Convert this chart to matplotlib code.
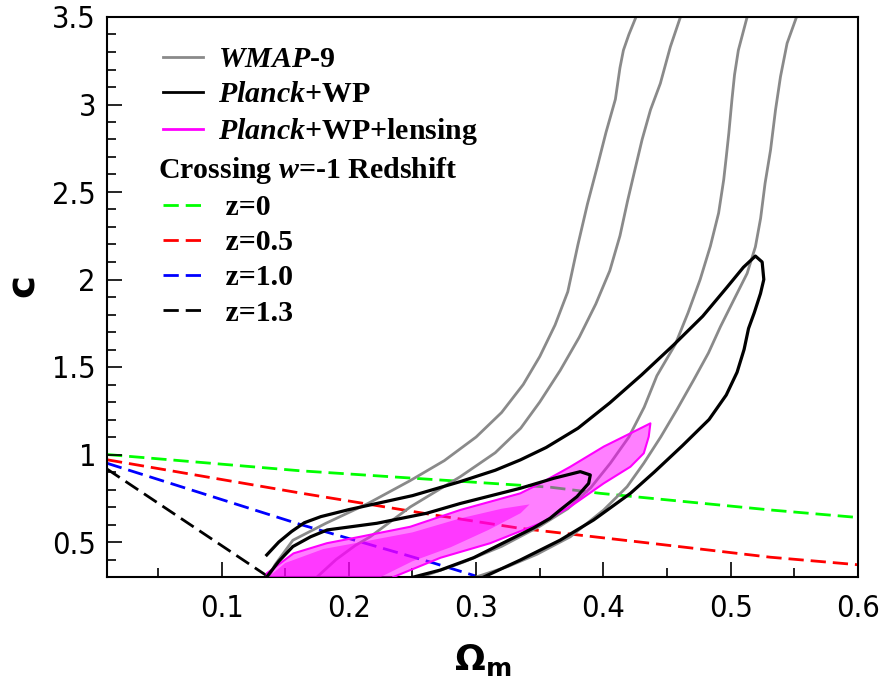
import matplotlib
matplotlib.use('Agg')
import matplotlib.pyplot as plt
from matplotlib.lines import Line2D
from matplotlib.ticker import MultipleLocator

plt.rcParams['mathtext.fontset'] = 'custom'
plt.rcParams['mathtext.rm'] = 'Liberation Serif:bold'
plt.rcParams['mathtext.it'] = 'Liberation Serif:italic:bold'
plt.rcParams['mathtext.bf'] = 'DejaVu Sans:bold'

# crossing w=-1 redshift lines (Omega_m, c)
z0_x = [0.01, 0.1617, 0.3583, 0.3976, 0.5312, 0.6]
z0_c = [1.0, 0.907, 0.813, 0.778, 0.683, 0.64]
z05_x = [0.01, 0.1617, 0.2665, 0.3347, 0.4369, 0.5312, 0.6]
z05_c = [0.97, 0.78, 0.655, 0.578, 0.493, 0.413, 0.37]
z10_x = [0.01, 0.162, 0.2665, 0.30]
z10_c = [0.95, 0.60, 0.38, 0.305]
z13_x = [0.01, 0.137]
z13_c = [0.917, 0.30]

# WMAP-9 contours (open branches)
wmap_out_left_x = [0.137, 0.142, 0.156, 0.182, 0.215, 0.248, 0.275, 0.30, 0.32, 0.337, 0.35,
                   0.362, 0.372, 0.38, 0.3874, 0.395, 0.402, 0.4094, 0.413, 0.4157, 0.42, 0.4256]
wmap_out_left_c = [0.30, 0.37, 0.51, 0.607, 0.72, 0.85, 0.965, 1.10, 1.24, 1.40, 1.56,
                   1.74, 1.93, 2.20, 2.43, 2.64, 2.84, 3.03, 3.21, 3.31, 3.40, 3.5]
wmap_in_left_x = [0.175, 0.19, 0.205, 0.2168, 0.2482, 0.2875, 0.315, 0.335, 0.35, 0.366, 0.381,
                  0.394, 0.405, 0.413, 0.419, 0.4245, 0.4304, 0.437, 0.4447, 0.4526, 0.4605]
wmap_in_left_c = [0.30, 0.40, 0.48, 0.53, 0.70, 0.873, 1.01, 1.15, 1.30, 1.48, 1.67,
                  1.86, 2.05, 2.25, 2.45, 2.62, 2.80, 2.97, 3.12, 3.33, 3.5]
wmap_in_right_x = [0.257, 0.29, 0.32, 0.35, 0.372, 0.39, 0.4054, 0.42, 0.432, 0.442, 0.4565,
                   0.4665, 0.476, 0.484, 0.4905, 0.4945, 0.4965, 0.4985, 0.501, 0.503, 0.506, 0.5129]
wmap_in_right_c = [0.30, 0.385, 0.475, 0.59, 0.69, 0.81, 0.95, 1.10, 1.27, 1.45, 1.63,
                   1.81, 2.0, 2.19, 2.38, 2.57, 2.70, 2.835, 3.03, 3.17, 3.31, 3.5]
wmap_out_right_x = [0.30, 0.325, 0.3478, 0.374, 0.4002, 0.4186, 0.4317, 0.445, 0.458, 0.4709, 0.4825,
                    0.4919, 0.5024, 0.5129, 0.5194, 0.5235, 0.527, 0.5313, 0.5352, 0.5391, 0.5443, 0.5517]
wmap_out_right_c = [0.30, 0.36, 0.43, 0.53, 0.683, 0.816, 0.95, 1.10, 1.26, 1.426, 1.58,
                    1.73, 1.883, 2.035, 2.187, 2.35, 2.55, 2.74, 2.969, 3.159, 3.35, 3.5]

# Planck+WP contours
planck_out_x = [0.1355, 0.145, 0.155, 0.165, 0.178, 0.20, 0.225, 0.25, 0.2875, 0.315, 0.3347,
                0.355, 0.38, 0.405, 0.43, 0.455, 0.478, 0.497, 0.51, 0.5194, 0.5247, 0.526,
                0.5234, 0.5185, 0.514, 0.5105, 0.505, 0.4965, 0.483, 0.462, 0.44, 0.4212,
                0.3923, 0.3661, 0.3347, 0.306]
planck_out_c = [0.426, 0.50, 0.56, 0.61, 0.645, 0.685, 0.725, 0.765, 0.845, 0.91, 0.969,
                1.04, 1.15, 1.295, 1.455, 1.625, 1.79, 1.955, 2.07, 2.134, 2.10, 2.0,
                1.92, 1.81, 1.72, 1.6, 1.47, 1.34, 1.20, 1.05, 0.90, 0.778,
                0.626, 0.511, 0.397, 0.30]
planck_in_x = [0.1355, 0.145, 0.156, 0.17, 0.183, 0.222, 0.261, 0.2875, 0.3347, 0.361, 0.3818,
               0.3897, 0.3884, 0.3792, 0.366, 0.358, 0.345, 0.32, 0.298, 0.272, 0.251]
planck_in_c = [0.30, 0.39, 0.474, 0.53, 0.569, 0.607, 0.664, 0.72, 0.807, 0.864, 0.902,
               0.883, 0.835, 0.759, 0.683, 0.635, 0.58, 0.49, 0.41, 0.34, 0.30]

# Planck+WP+lensing contours
lens_out_x = [0.1355, 0.1355, 0.1565, 0.1827, 0.2089, 0.2482, 0.2875, 0.3347, 0.3504, 0.374,
              0.4002, 0.4212, 0.4369, 0.4356, 0.4317, 0.4212, 0.4002, 0.374, 0.3504, 0.311,
              0.272, 0.235]
lens_out_c = [0.30, 0.321, 0.435, 0.493, 0.53, 0.587, 0.683, 0.778, 0.835, 0.93,
              1.045, 1.121, 1.178, 1.102, 1.007, 0.93, 0.835, 0.702, 0.607, 0.493,
              0.41, 0.30]
lens_in_x = [0.137, 0.15, 0.18, 0.21, 0.25, 0.2875, 0.32, 0.342, 0.335, 0.31, 0.28, 0.25, 0.225]
lens_in_c = [0.30, 0.38, 0.46, 0.50, 0.555, 0.635, 0.69, 0.715, 0.665, 0.57, 0.47, 0.39, 0.30]

fig = plt.figure(figsize=(8.81, 6.77), dpi=100)
ax = fig.add_axes([107/881, 1-577/677, 751/881, 560/677])

dash = (5.5, 2.5)
ax.plot(z0_x, z0_c, color='#00ff00', lw=2, dashes=dash, zorder=1)
ax.plot(z05_x, z05_c, color='#ff0000', lw=2, dashes=dash, zorder=1)
ax.plot(z10_x, z10_c, color='#0000ff', lw=2, dashes=dash, zorder=1)
ax.plot(z13_x, z13_c, color='black', lw=2, dashes=dash, zorder=1)

gray = '#8a8a8a'
for gx, gc in [(wmap_out_left_x, wmap_out_left_c), (wmap_in_left_x, wmap_in_left_c),
               (wmap_in_right_x, wmap_in_right_c), (wmap_out_right_x, wmap_out_right_c)]:
    ax.plot(gx, gc, color=gray, lw=2, zorder=2, solid_joinstyle='round')

ax.fill(lens_out_x, lens_out_c, color='#ff00ff', alpha=0.5, lw=0, zorder=3)
ax.plot(lens_out_x, lens_out_c, color='#ff00ff', lw=1.5, zorder=3)
ax.fill(lens_in_x, lens_in_c, color='#ff00ff', alpha=0.55, lw=0, zorder=3)

ax.plot(planck_out_x, planck_out_c, color='black', lw=2.3, zorder=4, solid_joinstyle='round')
ax.plot(planck_in_x, planck_in_c, color='black', lw=2.3, zorder=4, solid_joinstyle='round')

ax.set_xlim(0.01, 0.6)
ax.set_ylim(0.3, 3.5)
ax.xaxis.set_minor_locator(MultipleLocator(0.05))
ax.yaxis.set_minor_locator(MultipleLocator(0.1))
ax.set_xticks([0.1, 0.2, 0.3, 0.4, 0.5, 0.6])
ax.set_xticklabels(['0.1', '0.2', '0.3', '0.4', '0.5', '0.6'])
ax.set_yticks([0.5, 1, 1.5, 2, 2.5, 3, 3.5])
ax.set_yticklabels(['0.5', '1', '1.5', '2', '2.5', '3', '3.5'])
ax.tick_params(which='major', direction='in', length=11, width=1.2)
ax.tick_params(which='minor', direction='in', length=6.5, width=1.2)
ax.tick_params(axis='x', pad=12)
ax.tick_params(axis='y', pad=8)
for lab in ax.get_xticklabels() + ax.get_yticklabels():
    lab.set_fontsize(22)
    lab.set_fontstretch('condensed')
for s in ax.spines.values():
    s.set_linewidth(1.5)

ax.set_xlabel(r'$\mathbf{\Omega_m}$', fontsize=26, labelpad=14)
ax.set_ylabel('c', fontsize=28, fontweight='bold')
ax.yaxis.set_label_coords(-0.087, 0.52)

handles = [Line2D([], [], color=gray, lw=2),
           Line2D([], [], color='black', lw=2),
           Line2D([], [], color='#ff00ff', lw=2),
           Line2D([], [], color='none'),
           Line2D([], [], color='#00ff00', lw=2, dashes=dash),
           Line2D([], [], color='#ff0000', lw=2, dashes=dash),
           Line2D([], [], color='#0000ff', lw=2, dashes=dash),
           Line2D([], [], color='black', lw=2, dashes=dash)]
labels = [r'$WMAP$-9', r'$Planck$+WP', r'$Planck$+WP+lensing', r'Crossing $w$=-1 Redshift',
          ' z=0', ' z=0.5', ' z=1.0', ' z=1.3']
leg = ax.legend(handles, labels, loc='upper left', bbox_to_anchor=(0.0746, 0.948),
                frameon=False, borderpad=0, borderaxespad=0, handlelength=1.34,
                handletextpad=0.5, labelspacing=0.27,
                prop={'family': 'Liberation Serif', 'weight': 'bold', 'size': 21.5})
leg.get_texts()[3].set_x(-60)

fig.savefig('out.png', dpi=100)
